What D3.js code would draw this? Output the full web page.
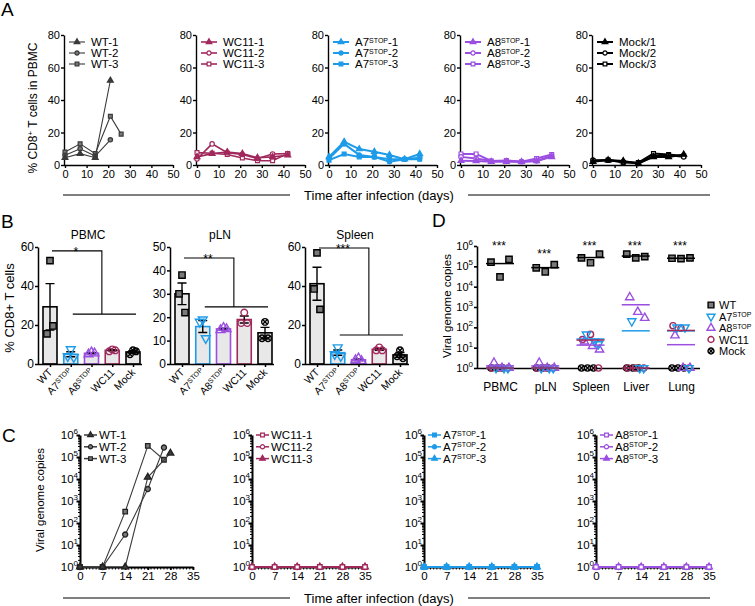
<!DOCTYPE html>
<html><head><meta charset="utf-8">
<script src="https://cdn.jsdelivr.net/npm/d3@7"></script>
<style>body{margin:0;background:#fff}</style>
</head><body><svg id="c" width="755" height="606"></svg>
<script>
// ---------------- DATA ----------------
// Panel A: % CD8+ T cells in PBMC over time
const aDays = [0, 7, 14, 21, 28, 35, 42];
const aWTDays1 = [0, 7, 14, 21];
const aWTDays2 = [0, 7, 14, 21];
const aWTDays3 = [0, 7, 14, 21, 26];
const aWT1 = [4.5, 7, 4.5, 52];
const aWT2 = [6, 10, 5.5, 15.5];
const aWT3 = [8, 13, 7, 30, 19];
const aWC1 = [5, 7, 8, 7, 4.5, 5, 6];
const aWC2 = [3.7, 13, 7.6, 6.5, 4, 6.8, 7];
const aWC3 = [7.6, 7.2, 6.5, 4.3, 2.6, 2.6, 7];
const aA71 = [5, 14.3, 9.8, 8.2, 6.2, 3.5, 6.8];
const aA72 = [4, 13, 6.2, 5, 2, 3.5, 4.5];
const aA73 = [3, 6.8, 5, 5, 3.5, 3.5, 3.5];
const aA81 = [2.6, 2.5, 2, 2, 2, 2.5, 5];
const aA82 = [5, 4, 2.5, 2.5, 2, 2.5, 5.5];
const aA83 = [6.8, 6.8, 2.5, 2.8, 2, 4, 6.5];
const aMock1 = [2, 3, 2.5, 1, 5, 5, 6.5];
const aMock2 = [3, 3, 2, 1, 5.5, 6, 5];
const aMock3 = [2.5, 3, 1.5, 1.5, 7, 6.5, 5.5];
const aNamesWT = ["WT-1", "WT-2", "WT-3"];
const aNamesWC = ["WC11-1", "WC11-2", "WC11-3"];
const aNamesA7 = ["A7^{STOP}-1", "A7^{STOP}-2", "A7^{STOP}-3"];
const aNamesA8 = ["A8^{STOP}-1", "A8^{STOP}-2", "A8^{STOP}-3"];
const aNamesMock = ["Mock/1", "Mock/2", "Mock/3"];
const aXTicks = [0, 10, 20, 30, 40, 50];
const aYTicks = [0, 20, 40, 60, 80];

// Panel B: % CD8+ T cells per tissue (3 animals per group)
const bGroups = ["WT", "A7^{STOP}", "A8^{STOP}", "WC11", "Mock"];
const bTitles = ["PBMC", "pLN", "Spleen"];
const bPBMC = [[53, 15.5, 19.5], [7.5, 4, 3.5], [6, 5, 5.5], [7.5, 6.5, 7], [7, 5, 6.5]];
const bPLN = [[38, 30, 22], [19, 18, 11], [15.5, 14.5, 15], [22, 17.5, 17.5], [18, 11, 11]];
const bSpleen = [[57, 38.5, 28], [8.5, 5, 4], [3, 2, 1.5], [8.5, 7, 7], [7, 4, 3]];
const bYMax = [60, 50, 60];
const bYTicks = [[0, 20, 40, 60], [0, 10, 20, 30, 40, 50], [0, 20, 40, 60]];
const bSigLabels = ["*", "**", "***"];
const bSigTop = [58, 45.3, 59.5];
const bSigLow = [25.6, 24.4, 14.9];

// Panel D: viral genome copies per tissue
const dTissues = ["PBMC", "pLN", "Spleen", "Liver", "Lung"];
const dWT = [[1.6e5, 3e4, 2.2e5], [8.5e4, 5.4e4, 1.2e5], [2.6e5, 1.5e5, 4e5], [4e5, 2.6e5, 3e5], [2.5e5, 2.4e5, 2.6e5]];
const dA7 = [[1, 1, 1], [1, 1, 1], [45, 20, 15], [200, 1, 1], [100, 100, 1]];
const dA8 = [[1.8, 1, 1], [1.8, 1, 1], [20, 12, 8], [3000, 570, 290], [40, 1, 1]];
const dWC11 = [[1, 1, 1], [1, 1, 1], [25, 45, 1], [1, 1, 1], [120, 90, 1]];
const dMock = [[1, 1, 1], [1, 1, 1], [1, 1, 1], [1, 1, 1], [1, 1, 1]];
const dStarLevel = [1.4e6, 5.6e5, 1.4e6, 1.4e6, 1.4e6];
const dLegend = ["WT", "A7^{STOP}", "A8^{STOP}", "WC11", "Mock"];
const logTicks = [1, 10, 100, 1e3, 1e4, 1e5, 1e6];

// Panel C: viral genome copies in PBMC over time
const cDays = [0, 7, 14, 21, 28, 35];
const cWTDays1 = [0, 7, 14, 21, 28];
const cWTDays2 = [0, 7, 14, 21, 26];
const cWTDays3 = [0, 7, 14, 21, 26];
const cWT1 = [1, 1, 1, 1.2e4, 1.5e5];
const cWT2 = [1, 1, 30, 3500, 2.7e5];
const cWT3 = [1, 1, 330, 3.2e5, 7.5e4];
const cWC1 = [1, 1, 1, 1, 1, 1];
const cWC2 = [1, 1, 1, 1, 1, 1];
const cWC3 = [1, 1, 1, 1, 1, 1];
const cA71 = [1, 1, 1, 1, 1, 1];
const cA72 = [1, 1, 1, 1, 1, 1];
const cA73 = [1, 1, 1, 1, 1, 1];
const cA81 = [1, 1, 1, 1, 1, 1];
const cA82 = [1, 1, 1, 1, 1, 1];
const cA83 = [1, 1, 1, 1, 1, 1];
const cNamesWT = ["WT-1", "WT-2", "WT-3"];
const cNamesWC = ["WC11-1", "WC11-2", "WC11-3"];
const cNamesA7 = ["A7^{STOP}-1", "A7^{STOP}-2", "A7^{STOP}-3"];
const cNamesA8 = ["A8^{STOP}-1", "A8^{STOP}-2", "A8^{STOP}-3"];
const cXTicks = [0, 7, 14, 21, 28, 35];

// ---------------- DRAWING ----------------
const FONT = '"Liberation Sans", Arial, Helvetica, sans-serif';
const COL = { wt: "#3a3a3a", wtFill: "#7a7a7a", wc11: "#a1285c", a7: "#1e9be8", a8: "#9b4fe0", mock: "#000" };
const svg = d3.select("#c").attr("font-family", FONT);

function rich(t, s, supFs, shift) {
  const parts = s.split(/(\^\{[^}]*\})/).filter(p => p.length);
  let up = false;
  parts.forEach(p => {
    if (p.startsWith("^{")) {
      t.append("tspan").attr("font-size", supFs).attr("dy", -shift).text(p.slice(2, -1));
      up = true;
    } else {
      const ts = t.append("tspan").text(p);
      if (up) { ts.attr("dy", shift); up = false; }
    }
  });
  return t;
}

function sym(g, type, x, y, size, fill, stroke, sw) {
  let t = d3.symbolCircle, rot = 0;
  if (type === "tri") t = d3.symbolTriangle;
  else if (type === "tridown") { t = d3.symbolTriangle; rot = 180; }
  else if (type === "sq") t = d3.symbolSquare;
  g.append("path").attr("d", d3.symbol().type(t).size(size)())
    .attr("transform", `translate(${x},${y}) rotate(${rot})`)
    .attr("fill", fill).attr("stroke", stroke).attr("stroke-width", sw);
  if (type === "circx") {
    const r = Math.sqrt(size / Math.PI) * 0.72;
    g.append("path").attr("d", `M${x - r},${y - r}L${x + r},${y + r}M${x - r},${y + r}L${x + r},${y - r}`)
      .attr("stroke", stroke).attr("stroke-width", sw);
  }
}

function styleAxis(g, fs, sw) {
  g.attr("font-family", FONT);
  g.selectAll("path.domain").attr("stroke", "#000").attr("stroke-width", sw);
  g.selectAll(".tick line").attr("stroke", "#000").attr("stroke-width", sw);
  g.selectAll(".tick text").attr("fill", "#000").attr("font-size", fs);
}

function letter(s, x, y, fs) {
  svg.append("text").attr("x", x).attr("y", y).attr("font-size", fs).text(s);
}

function timeLabel(y) {
  const g = svg.append("g");
  g.append("line").attr("x1", 63).attr("x2", 290).attr("y1", y).attr("y2", y).attr("stroke", "#000").attr("stroke-width", 1);
  g.append("line").attr("x1", 468).attr("x2", 710).attr("y1", y).attr("y2", y).attr("stroke", "#000").attr("stroke-width", 1);
  g.append("text").attr("x", 379).attr("y", y + 5).attr("text-anchor", "middle").attr("font-size", 13)
    .text("Time after infection (days)");
}

// ---- Panel A ----
letter("A", 1, 16, 19);
const aMarks = ["tri", "circ", "sq"];
const aSize = { tri: 15, circ: 15, sq: 15 };
const aPanels = [
  { days: [aWTDays1, aWTDays2, aWTDays3], vals: [aWT1, aWT2, aWT3], names: aNamesWT, color: COL.wt, mfill: [COL.wt, COL.wtFill, COL.wtFill], lw: 1.1 },
  { days: [aDays, aDays, aDays], vals: [aWC1, aWC2, aWC3], names: aNamesWC, color: COL.wc11, mfill: [COL.wc11, "#fff", "#fff"], lw: 1.6 },
  { days: [aDays, aDays, aDays], vals: [aA71, aA72, aA73], names: aNamesA7, color: COL.a7, mfill: [COL.a7, COL.a7, COL.a7], lw: 2 },
  { days: [aDays, aDays, aDays], vals: [aA81, aA82, aA83], names: aNamesA8, color: COL.a8, mfill: [COL.a8, "#fff", "#fff"], lw: 2 },
  { days: [aDays, aDays, aDays], vals: [aMock1, aMock2, aMock3], names: aNamesMock, color: COL.mock, mfill: ["#000", "#fff", "#fff"], lw: 2 }
];
const aY = d3.scaleLinear().domain([0, 80]).range([165, 35]);
aPanels.forEach((p, i) => {
  const x0 = 64 + i * 132;
  const x = d3.scaleLinear().domain([0, 50]).range([x0 + 1, x0 + 109]);
  const g = svg.append("g");
  const gx = g.append("g").attr("transform", "translate(0,165)")
    .call(d3.axisBottom(x).tickValues(aXTicks).tickSize(3).tickSizeOuter(0).tickPadding(2));
  gx.select("path.domain").attr("d", `M${x0},0.5H${x0 + 109}`);
  styleAxis(gx, 11, 1.4);
  const gy = g.append("g").attr("transform", `translate(${x0},0)`)
    .call(d3.axisLeft(aY).tickValues(aYTicks).tickSize(3).tickSizeOuter(0).tickPadding(1));
  styleAxis(gy, 11, 1.4);
  const line = d3.line().x(d => x(d[0])).y(d => aY(d[1]));
  for (let s = 2; s >= 0; s--) {
    const pts = p.days[s].map((d, k) => [d, p.vals[s][k]]);
    g.append("path").attr("d", line(pts)).attr("fill", "none").attr("stroke", p.color).attr("stroke-width", p.lw);
    pts.forEach(d => sym(g, aMarks[s], x(d[0]), aY(d[1]), aSize[aMarks[s]], p.mfill[s], p.color, 1.2));
  }
  // legend
  p.names.forEach((n, s) => {
    const yy = 42 + s * 11;
    g.append("line").attr("x1", x0 + 5).attr("x2", x0 + 21).attr("y1", yy).attr("y2", yy).attr("stroke", p.color).attr("stroke-width", p.lw);
    sym(g, aMarks[s], x0 + 13, yy, 14, p.mfill[s], p.color, 1.2);
    rich(g.append("text").attr("x", x0 + 27).attr("y", yy + 4).attr("font-size", 11.5), n, 7, 3.5);
  });
});
svg.append("text").attr("transform", "translate(37,108) rotate(-90)").attr("text-anchor", "middle").attr("font-size", 12)
  .call(t => rich(t, "% CD8^{+} T cells in PBMC", 8, 4));
timeLabel(195);

// ---- Panel B ----
letter("B", 1, 228, 19);
const bData = [bPBMC, bPLN, bSpleen];
const bColors = ["#000", COL.a7, COL.a8, COL.wc11, "#000"];
const bMarks = ["sq", "tridown", "tri", "circ", "circx"];
const bFills = [COL.wtFill, "none", "none", "none", "none"];
const bX0 = [38, 170, 305];
const bOff = [0, -3, 3];
bData.forEach((pts, i) => {
  const x0 = bX0[i];
  const g = svg.append("g");
  const y = d3.scaleLinear().domain([0, bYMax[i]]).range([364, 247]);
  const xb = d3.scalePoint().domain(bGroups).range([x0 + 12, x0 + 95]);
  g.append("text").attr("x", x0 + 50).attr("y", 239).attr("text-anchor", "middle").attr("font-size", 12).text(bTitles[i]);
  // bars
  bGroups.forEach((grp, k) => {
    const v = pts[k];
    const m = d3.mean(v), sem = d3.deviation(v) / Math.sqrt(v.length);
    const cx = xb(grp);
    g.append("rect").attr("x", cx - 7).attr("y", y(m)).attr("width", 14).attr("height", y(0) - y(m))
      .attr("fill", "#e8e8e8").attr("stroke", bColors[k]).attr("stroke-width", 1.6);
    g.append("path").attr("d", `M${cx},${y(m - sem)}V${y(m + sem)}M${cx - 4.5},${y(m + sem)}H${cx + 4.5}M${cx - 4.5},${y(m - sem)}H${cx + 4.5}`)
      .attr("stroke", "#000").attr("stroke-width", 1.4).attr("fill", "none");
    v.forEach((val, j) => sym(g, bMarks[k], cx + bOff[j], y(val), bMarks[k] === "sq" ? 40 : 34, bFills[k], k === 0 ? "#000" : bColors[k], 1.4));
  });
  const gx = g.append("g").attr("transform", "translate(0,364)")
    .call(d3.axisBottom(xb).tickSize(3).tickSizeOuter(0).tickFormat(""));
  gx.select("path.domain").attr("d", `M${x0},0.5H${x0 + 104}`);
  styleAxis(gx, 10, 1.5);
  const gy = g.append("g").attr("transform", `translate(${x0},0)`)
    .call(d3.axisLeft(y).tickValues(bYTicks[i]).tickSize(3).tickSizeOuter(0).tickPadding(1));
  styleAxis(gy, 12, 1.5);
  bGroups.forEach(grp => {
    const t = g.append("text").attr("transform", `translate(${xb(grp) + 3},${373}) rotate(-45)`)
      .attr("text-anchor", "end").attr("font-size", 10.5);
    rich(t, grp, 7, 3.5);
  });
  // significance bracket
  const xv = (xb(bGroups[2]) + xb(bGroups[3])) / 2;
  g.append("path").attr("d", `M${xb(bGroups[0]) + 2},${y(bSigTop[i])}H${xv}V${y(bSigLow[i])}M${xb(bGroups[1]) + 2},${y(bSigLow[i])}H${xb(bGroups[4]) + 3}`)
    .attr("stroke", "#000").attr("stroke-width", 1.1).attr("fill", "none");
  g.append("text").attr("x", (xb(bGroups[0]) + xv) / 2).attr("y", y(bSigTop[i]) + 5).attr("text-anchor", "middle")
    .attr("font-size", 12).text(bSigLabels[i]);
});
svg.append("text").attr("transform", "translate(14,308) rotate(-90)").attr("text-anchor", "middle").attr("font-size", 13)
  .text("% CD8+ T cells");

// ---- Panel D ----
letter("D", 432, 227, 19);
{
  const g = svg.append("g");
  const y = d3.scaleLog().domain([1, 1e6]).range([368, 246]);
  const x = d3.scalePoint().domain(dTissues).range([500, 681]);
  const gx = g.append("g").attr("transform", "translate(0,368)")
    .call(d3.axisBottom(x).tickSize(0).tickSizeOuter(0).tickPadding(14));
  gx.select("path.domain").attr("d", `M477,0.5H700`);
  styleAxis(gx, 12, 1.6);
  const gy = g.append("g").attr("transform", "translate(477,0)")
    .call(d3.axisLeft(y).tickValues(logTicks).tickSize(3).tickSizeOuter(0).tickFormat(""));
  styleAxis(gy, 11, 1.6);
  logTicks.forEach(v => {
    const t = g.append("text").attr("x", 473).attr("y", y(v) + 4).attr("text-anchor", "end").attr("font-size", 11);
    rich(t, "10^{" + Math.round(Math.log10(v)) + "}", 8, 5);
  });
  const groups = [
    { d: dMock, mk: "circx", c: "#000", fill: "#fff", off: [-9, -3, 3] },
    { d: dWC11, mk: "circ", c: COL.wc11, fill: "none", off: [-8, 0, 8] },
    { d: dA8, mk: "tri", c: COL.a8, fill: "none", off: [-6, 2, 9] },
    { d: dA7, mk: "tridown", c: COL.a7, fill: "none", off: [-4, 4, 8] },
    { d: dWT, mk: "sq", c: "#000", fill: COL.wtFill, off: [-9, 0, 9] }
  ];
  dTissues.forEach((tis, i) => {
    const cx = x(tis);
    groups.forEach(gr => {
      gr.d[i].forEach((v, j) => sym(g, gr.mk, cx + gr.off[j], y(v), gr.mk === "sq" ? 40 : 30, gr.fill, gr.c, 1.4));
    });
    groups.slice(1).reverse().forEach(gr => {
      const m = d3.mean(gr.d[i]);
      g.append("line").attr("x1", cx - 14).attr("x2", cx + 14).attr("y1", y(m)).attr("y2", y(m))
        .attr("stroke", gr.c).attr("stroke-width", 1.5);
    });
    g.append("text").attr("x", cx - 1).attr("y", y(dStarLevel[i]) + 7).attr("text-anchor", "middle").attr("font-size", 12).text("***");
  });
  // legend
  const lg = [
    { mk: "sq", c: "#000", fill: COL.wtFill },
    { mk: "tridown", c: COL.a7, fill: "none" },
    { mk: "tri", c: COL.a8, fill: "none" },
    { mk: "circ", c: COL.wc11, fill: "none" },
    { mk: "circx", c: "#000", fill: "#fff" }
  ];
  dLegend.forEach((n, k) => {
    const yy = 305 + k * 11.5;
    sym(g, lg[k].mk, 711, yy, lg[k].mk === "sq" ? 34 : 28, lg[k].fill, lg[k].c, 1.4);
    rich(g.append("text").attr("x", 719).attr("y", yy + 4).attr("font-size", 11), n, 7, 3.5);
  });
  g.append("text").attr("transform", "translate(451,306) rotate(-90)").attr("text-anchor", "middle").attr("font-size", 11.5)
    .text("Viral genome copies");
}

// ---- Panel C ----
letter("C", 2, 442, 19);
const cPanels = [
  { days: [cWTDays1, cWTDays2, cWTDays3], vals: [cWT1, cWT2, cWT3], names: cNamesWT, marks: ["tri", "circ", "sq"], color: COL.wt, mfill: [COL.wt, COL.wtFill, COL.wtFill], lw: 1.1 },
  { days: [cDays, cDays, cDays], vals: [cWC1, cWC2, cWC3], names: cNamesWC, marks: ["sq", "circ", "tri"], color: COL.wc11, mfill: ["#fff", "#fff", COL.wc11], lw: 1.5 },
  { days: [cDays, cDays, cDays], vals: [cA71, cA72, cA73], names: cNamesA7, marks: ["sq", "circ", "tri"], color: COL.a7, mfill: [COL.a7, COL.a7, COL.a7], lw: 1.5 },
  { days: [cDays, cDays, cDays], vals: [cA81, cA82, cA83], names: cNamesA8, marks: ["sq", "circ", "tri"], color: COL.a8, mfill: ["#fff", "#fff", COL.a8], lw: 1.5 }
];
const cX0 = [80, 252, 424, 596];
const cY = d3.scaleLog().domain([1, 1e6]).range([567, 435]);
const minorY = [];
for (let e = 0; e < 6; e++) for (let m = 2; m <= 9; m++) minorY.push(m * Math.pow(10, e));
cPanels.forEach((p, i) => {
  const x0 = cX0[i];
  const x = d3.scaleLinear().domain([0, 35]).range([x0, x0 + 113]);
  const g = svg.append("g");
  // minor ticks
  minorY.forEach(v => g.append("line").attr("x1", x0 - 2).attr("x2", x0).attr("y1", cY(v)).attr("y2", cY(v)).attr("stroke", "#000").attr("stroke-width", 1));
  d3.range(0, 36).forEach(d => g.append("line").attr("x1", x(d)).attr("x2", x(d)).attr("y1", 567).attr("y2", 569.5).attr("stroke", "#000").attr("stroke-width", 1));
  const gx = g.append("g").attr("transform", "translate(0,567)")
    .call(d3.axisBottom(x).tickValues(cXTicks).tickSize(3).tickSizeOuter(0).tickPadding(1.5));
  styleAxis(gx, 11.5, 1.8);
  const gy = g.append("g").attr("transform", `translate(${x0},0)`)
    .call(d3.axisLeft(cY).tickValues(logTicks).tickSize(3.5).tickSizeOuter(0).tickFormat(""));
  styleAxis(gy, 11, 2);
  logTicks.forEach(v => {
    const t = g.append("text").attr("x", x0 - 2).attr("y", cY(v) + 4).attr("text-anchor", "end").attr("font-size", 11.5);
    rich(t, "10^{" + Math.round(Math.log10(v)) + "}", 8, 5);
  });
  const line = d3.line().x(d => x(d[0])).y(d => cY(d[1]));
  for (let s = 2; s >= 0; s--) {
    const pts = p.days[s].map((d, k) => [d, p.vals[s][k]]);
    g.append("path").attr("d", line(pts)).attr("fill", "none").attr("stroke", p.color).attr("stroke-width", p.lw);
    pts.forEach(d => sym(g, p.marks[s], x(d[0]), cY(d[1]), 20, p.mfill[s], i === 0 ? "#222" : p.color, 1.3));
  }
  p.names.forEach((n, s) => {
    const yy = 435 + s * 11.8;
    g.append("line").attr("x1", x0 + 4).attr("x2", x0 + 17).attr("y1", yy).attr("y2", yy).attr("stroke", p.color).attr("stroke-width", 1.5);
    sym(g, p.marks[s], x0 + 10.5, yy, 14, p.mfill[s], i === 0 ? "#222" : p.color, 1.2);
    rich(g.append("text").attr("x", x0 + 19).attr("y", yy + 4).attr("font-size", 11.5), n, 7, 3.5);
  });
});
svg.append("text").attr("transform", "translate(44,500) rotate(-90)").attr("text-anchor", "middle").attr("font-size", 11.5)
  .text("Viral genome copies");
timeLabel(598);
</script>
</body></html>
